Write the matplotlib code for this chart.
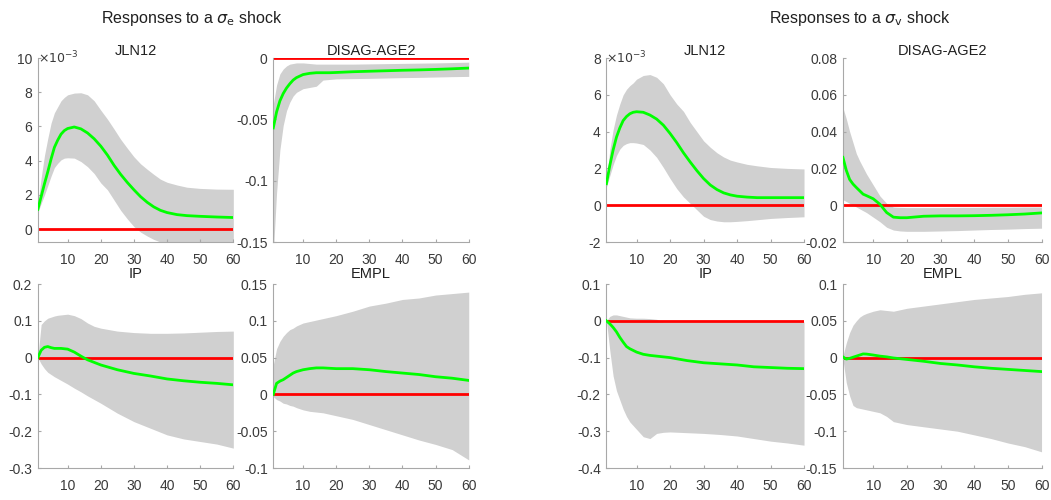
import numpy as np
import matplotlib
matplotlib.use("Agg")
import matplotlib.pyplot as plt
from matplotlib.ticker import FuncFormatter

plt.rcParams["font.family"] = ["Liberation Sans", "DejaVu Sans"]

# horizons (months); the JLN12 panels are read on a finer grid
H = [1, 2, 3, 4, 5, 6, 7, 8, 10, 12, 14, 16, 18, 20, 25, 30, 35, 40, 45, 50, 55, 60]
H_JLN = [1, 2, 3, 4, 5, 6, 7, 8, 9, 10, 12, 14, 16, 18, 20, 22, 24, 26, 28, 30,
         32, 34, 36, 38, 40, 43, 46, 50, 55, 60]

# --- responses to sigma_e shock ---
jln_e_mid = np.array([1.16, 1.9, 2.65, 3.35, 4.1, 4.78, 5.2, 5.55, 5.76, 5.88, 5.97, 5.86, 5.62,
                      5.28, 4.85, 4.33, 3.73, 3.2, 2.73, 2.3, 1.9, 1.57, 1.3, 1.1, 0.97, 0.85,
                      0.79, 0.75, 0.71, 0.68]) * 1e-3
jln_e_up = np.array([1.36, 3.0, 4.3, 5.3, 6.2, 6.8, 7.15, 7.5, 7.7, 7.85, 7.95, 7.97, 7.85, 7.5,
                     6.95, 6.43, 5.85, 5.25, 4.73, 4.23, 3.82, 3.5, 3.2, 2.92, 2.74, 2.58, 2.45,
                     2.38, 2.34, 2.33]) * 1e-3
jln_e_lo = np.array([0.97, 1.5, 2.0, 2.55, 3.1, 3.6, 3.85, 4.05, 4.15, 4.17, 4.15, 3.95, 3.65,
                     3.25, 2.7, 2.3, 1.7, 1.1, 0.6, 0.15, -0.17, -0.4, -0.6, -0.75, -0.9, -0.95,
                     -0.95, -0.95, -0.95, -0.95]) * 1e-3

dis_e_mid = [-0.057, -0.044, -0.035, -0.029, -0.0245, -0.021, -0.018, -0.016, -0.0135, -0.0125,
             -0.012, -0.012, -0.012, -0.0118, -0.0112, -0.0108, -0.0104, -0.0100, -0.0097,
             -0.0093, -0.0088, -0.0082]
dis_e_up = [-0.038, -0.022, -0.013, -0.009, -0.0065, -0.005, -0.0045, -0.004, -0.004, -0.0045,
            -0.005, -0.005, -0.005, -0.005, -0.005, -0.0048, -0.0046, -0.0044, -0.0042,
            -0.004, -0.0037, -0.0034]
dis_e_lo = [-0.16, -0.11, -0.075, -0.055, -0.043, -0.036, -0.031, -0.028, -0.025, -0.024,
            -0.023, -0.018, -0.0175, -0.017, -0.0168, -0.0166, -0.0163, -0.016, -0.0158,
            -0.0155, -0.0152, -0.015]

ip_e_mid = [0.0, 0.02, 0.028, 0.03, 0.027, 0.025, 0.025, 0.025, 0.023, 0.015, 0.004, -0.006,
            -0.013, -0.02, -0.033, -0.043, -0.05, -0.058, -0.063, -0.067, -0.07, -0.074]
ip_e_up = [0.0, 0.09, 0.1, 0.107, 0.11, 0.113, 0.115, 0.116, 0.118, 0.114, 0.106, 0.094,
           0.085, 0.08, 0.072, 0.068, 0.066, 0.066, 0.067, 0.069, 0.071, 0.072]
ip_e_lo = [0.0, -0.017, -0.03, -0.04, -0.046, -0.052, -0.057, -0.062, -0.072, -0.083, -0.093,
           -0.104, -0.114, -0.124, -0.151, -0.174, -0.192, -0.21, -0.221, -0.228, -0.235, -0.246]

empl_e_mid = [0.0, 0.015, 0.018, 0.02, 0.023, 0.026, 0.029, 0.031, 0.0335, 0.035, 0.036, 0.036,
              0.0355, 0.035, 0.035, 0.0335, 0.031, 0.029, 0.027, 0.024, 0.022, 0.019]
empl_e_up = [0.04, 0.062, 0.072, 0.079, 0.084, 0.088, 0.09, 0.093, 0.097, 0.099, 0.101, 0.103,
             0.105, 0.107, 0.113, 0.12, 0.124, 0.129, 0.131, 0.135, 0.137, 0.139]
empl_e_lo = [-0.003, -0.007, -0.009, -0.012, -0.013, -0.015, -0.016, -0.018, -0.021, -0.023,
             -0.024, -0.025, -0.027, -0.029, -0.034, -0.041, -0.048, -0.055, -0.062, -0.068,
             -0.075, -0.089]

# --- responses to sigma_v shock ---
jln_v_mid = np.array([1.17, 2.15, 3.0, 3.7, 4.2, 4.6, 4.82, 4.97, 5.05, 5.08, 5.05, 4.9, 4.68,
                      4.35, 3.9, 3.4, 2.85, 2.35, 1.88, 1.45, 1.1, 0.85, 0.67, 0.56, 0.49, 0.44,
                      0.41, 0.41, 0.41, 0.41]) * 1e-3
jln_v_up = np.array([1.26, 3.0, 4.1, 4.9, 5.5, 6.0, 6.3, 6.5, 6.65, 6.85, 7.05, 7.1, 6.95, 6.6,
                     6.0, 5.5, 5.1, 4.5, 4.0, 3.5, 3.15, 2.85, 2.62, 2.45, 2.35, 2.22, 2.14,
                     2.05, 2.0, 1.97]) * 1e-3
jln_v_lo = np.array([0.99, 1.6, 2.2, 2.7, 3.05, 3.25, 3.35, 3.4, 3.4, 3.38, 3.3, 3.0, 2.6, 2.05,
                     1.45, 0.9, 0.45, 0.1, -0.25, -0.6, -0.78, -0.86, -0.9, -0.9, -0.88, -0.84,
                     -0.79, -0.72, -0.67, -0.63]) * 1e-3

dis_v_mid = [0.026, 0.019, 0.014, 0.0115, 0.0096, 0.0078, 0.006, 0.0052, 0.0035, 0.0005, -0.004,
             -0.0065, -0.0068, -0.0068, -0.006, -0.0058, -0.0058, -0.0057, -0.0055, -0.0052,
             -0.0048, -0.0042]
dis_v_up = [0.053, 0.047, 0.040, 0.034, 0.028, 0.024, 0.0205, 0.017, 0.011, 0.005, 0.001, -0.001,
            -0.0012, -0.0013, -0.0013, -0.0013, -0.0012, -0.0012, -0.0011, -0.0011, -0.001, -0.001]
dis_v_lo = [0.003, 0.002, 0.001, 0.0, -0.001, -0.002, -0.003, -0.004, -0.0065, -0.009, -0.012,
            -0.0135, -0.014, -0.0142, -0.0142, -0.014, -0.0138, -0.0135, -0.0132, -0.013,
            -0.0127, -0.0125]

ip_v_mid = [0.0, -0.008, -0.018, -0.03, -0.045, -0.058, -0.07, -0.076, -0.085, -0.091, -0.094,
            -0.096, -0.098, -0.1, -0.108, -0.114, -0.117, -0.12, -0.125, -0.127, -0.129, -0.13]
ip_v_up = [0.0, 0.012, 0.016, 0.016, 0.014, 0.012, 0.01, 0.008, 0.007, 0.007, 0.006, 0.004,
           -0.003, -0.003, -0.003, -0.003, -0.003, -0.003, -0.003, -0.003, -0.003, -0.003]
ip_v_lo = [0.0, -0.08, -0.15, -0.19, -0.215, -0.24, -0.26, -0.275, -0.295, -0.315, -0.32,
           -0.306, -0.303, -0.302, -0.304, -0.306, -0.309, -0.313, -0.32, -0.327, -0.332, -0.338]

empl_v_mid = [0.001, -0.002, -0.001, 0.0005, 0.002, 0.0035, 0.005, 0.0048, 0.0035, 0.002, 0.001,
              -0.0005, -0.0015, -0.0025, -0.005, -0.008, -0.010, -0.0125, -0.0145, -0.016,
              -0.0175, -0.019]
empl_v_up = [0.002, 0.02, 0.034, 0.044, 0.05, 0.055, 0.058, 0.06, 0.063, 0.065, 0.064, 0.063,
             0.065, 0.067, 0.070, 0.073, 0.076, 0.079, 0.081, 0.083, 0.086, 0.088]
empl_v_lo = [-0.002, -0.034, -0.052, -0.065, -0.068, -0.069, -0.07, -0.071, -0.073, -0.075,
             -0.08, -0.087, -0.089, -0.091, -0.094, -0.097, -0.1, -0.105, -0.11, -0.116,
             -0.121, -0.128]

BAND = "#d0d0d0"
GREEN = "#00ff00"
RED = "#ff0000"
SPINE = "#a8a8a8"
TXT = "#3a3a3a"


def _fmt(scale):
    def f(v, pos):
        s = "%g" % round(v / scale, 6)
        return "0" if s == "-0" else s
    return FuncFormatter(f)


def draw_panel(rect, x, mid, up, lo, title, ylim, yticks, scale=1.0, pad=1):
    ax = fig.add_axes(rect)
    ax.fill_between(x, lo, up, color=BAND, linewidth=0, zorder=1)
    ax.plot([x[0], x[-1]], [0, 0], color=RED, linewidth=2, zorder=2)
    ax.plot(x, mid, color=GREEN, linewidth=2, zorder=3)
    ax.set_xlim(1, 60)
    ax.set_ylim(*ylim)
    ax.set_xticks([10, 20, 30, 40, 50, 60])
    ax.set_yticks(yticks)
    ax.yaxis.set_major_formatter(_fmt(scale))
    for side in ("top", "right"):
        ax.spines[side].set_visible(False)
    for side in ("left", "bottom"):
        ax.spines[side].set_color(SPINE)
        ax.spines[side].set_linewidth(0.8)
    ax.tick_params(direction="in", length=2, color=SPINE, labelcolor=TXT, labelsize=10, pad=4)
    ax.tick_params(axis="x", pad=8)
    ax.set_title(title, fontsize=10.5, color="#202020", pad=pad)
    if scale != 1.0:
        ax.text(0.0, 1.0, r"$\times10^{-3}$", transform=ax.transAxes, ha="left", va="center",
                fontsize=9, color=TXT)
    return ax


fig = plt.figure(figsize=(10.51, 5.0), dpi=100)

top_b, top_h = 0.516, 0.368
bot_b, bot_h = 0.064, 0.368
cols = [(0.036, 0.186), (0.260, 0.186), (0.577, 0.188), (0.802, 0.189)]

draw_panel([cols[0][0], top_b, cols[0][1], top_h], H_JLN, jln_e_mid, jln_e_up, jln_e_lo,
           "JLN12", (-0.75e-3, 10e-3), np.arange(0, 11, 2) * 1e-3, scale=1e-3)
draw_panel([cols[1][0], top_b, cols[1][1], top_h], H, dis_e_mid, dis_e_up, dis_e_lo,
           "DISAG-AGE2", (-0.15, 0.0), [-0.15, -0.1, -0.05, 0.0])
draw_panel([cols[0][0], bot_b, cols[0][1], bot_h], H, ip_e_mid, ip_e_up, ip_e_lo, "IP",
           (-0.3, 0.2), [-0.3, -0.2, -0.1, 0.0, 0.1, 0.2], pad=4)
draw_panel([cols[1][0], bot_b, cols[1][1], bot_h], H, empl_e_mid, empl_e_up, empl_e_lo, "EMPL",
           (-0.1, 0.15), [-0.1, -0.05, 0.0, 0.05, 0.1, 0.15], pad=4)

draw_panel([cols[2][0], top_b, cols[2][1], top_h], H_JLN, jln_v_mid, jln_v_up, jln_v_lo,
           "JLN12", (-2e-3, 8e-3), np.arange(-2, 9, 2) * 1e-3, scale=1e-3)
draw_panel([cols[3][0], top_b, cols[3][1], top_h], H, dis_v_mid, dis_v_up, dis_v_lo,
           "DISAG-AGE2", (-0.02, 0.08), [-0.02, 0.0, 0.02, 0.04, 0.06, 0.08])
draw_panel([cols[2][0], bot_b, cols[2][1], bot_h], H, ip_v_mid, ip_v_up, ip_v_lo, "IP",
           (-0.4, 0.1), [-0.4, -0.3, -0.2, -0.1, 0.0, 0.1], pad=4)
draw_panel([cols[3][0], bot_b, cols[3][1], bot_h], H, empl_v_mid, empl_v_up, empl_v_lo, "EMPL",
           (-0.15, 0.1), [-0.15, -0.1, -0.05, 0.0, 0.05, 0.1], pad=4)

fig.text(192 / 1051, 1 - 18 / 500, r"Responses to a $\sigma_{\rm e}$ shock", ha="center",
         va="center", fontsize=11.5, color="#202020")
fig.text(860 / 1051, 1 - 18 / 500, r"Responses to a $\sigma_{\rm v}$ shock", ha="center",
         va="center", fontsize=11.5, color="#202020")

fig.savefig("out.png", dpi=100, facecolor="white")
plt.close(fig)
